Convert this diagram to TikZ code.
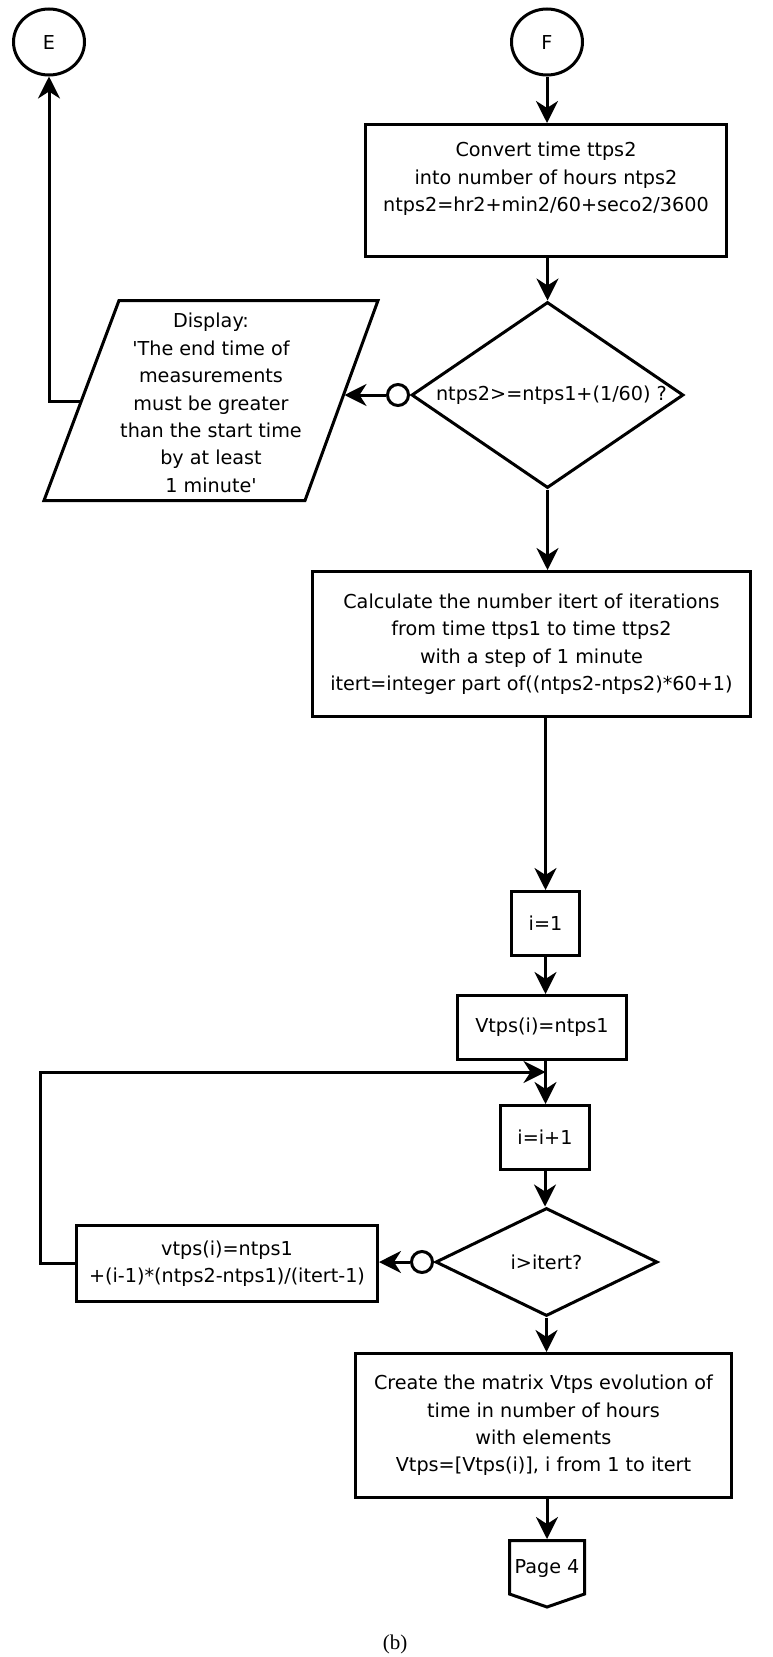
\documentclass[tikz,border=0pt]{standalone}
\usepackage{fontspec}
\newfontfamily\dvs{DejaVu Sans}
\newfontfamily\capfont{Liberation Serif}
\usetikzlibrary{shapes.geometric,arrows.meta}
\begin{document}
\begin{tikzpicture}[x=1pt,y=-1pt,
  every node/.style={font=\dvs\fontsize{19.2pt}{27.4pt}\selectfont, inner sep=0pt},
  lw/.style={line width=3pt},
  proc/.style={draw, lw, rectangle, align=center},
  conn/.style={draw, lw, ellipse, minimum width=71pt, minimum height=66pt},
  decide/.style={draw, lw, diamond, align=center},
  dot/.style={draw, lw, circle, minimum size=21pt},
  flow/.style={lw, -{Stealth[length=22pt,width=22pt,inset=7pt]}},
  wire/.style={lw},
]
\useasboundingbox (0,0) rectangle (772,1657);

% connectors to other pages
\node[conn] (E) at (49,42) {E};
\node[conn] (F) at (547,42) {F};

% conversion of the end time
\node[proc, minimum width=361pt, minimum height=132pt] (conv) at (546,190.5)
  {Convert time ttps2\\into number of hours ntps2\\ntps2=hr2+min2/60+seco2/3600\\\mbox{}};

% check of the measurement interval
\node[decide, aspect=1.46, minimum width=272pt, minimum height=186pt] (d1) at (547.5,395)
  {\hspace*{8pt}ntps2>=ntps1+(1/60) ?};
\node[dot, anchor=east] (c1) at (d1.west) {};

% error message (parallelogram)
\draw[wire] (119,300.5) -- (378,300.5) -- (305,500.5) -- (44,500.5) -- cycle;
\node[align=center] (disp) at (211,403)
  {Display:\\'The end time of\\measurements\\must be greater\\than the start time\\by at least\\ 1 minute'};
\coordinate (dispE) at (344.5,396);
\coordinate (dispW) at (81.3,401);

% number of iterations
\node[proc, minimum width=438pt, minimum height=145pt] (calc) at (531.5,644)
  {Calculate the number itert of iterations\\from time ttps1 to time ttps2\\with a step of 1 minute\\itert=integer part of((ntps2-ntps2)*60+1)};

% loop
\node[proc, minimum width=68pt, minimum height=64pt] (i1) at (545.5,923.5) {i=1};
\node[proc, minimum width=169pt, minimum height=64pt] (vt) at (542,1027.5) {Vtps(i)=ntps1};
\coordinate (join) at (545.5,1072);
\coordinate (loopc) at (40,1072);
\node[proc, minimum width=89pt, minimum height=64pt] (inc) at (545,1137.5) {i=i+1};
\node[decide, aspect=2.05, minimum width=222pt, minimum height=108pt] (d2) at (546.5,1262) {i>itert?};
\node[dot, anchor=east] (c2) at (d2.west) {};
\node[proc, minimum width=301pt, minimum height=76pt] (vtps) at (227,1263.5)
  {vtps(i)=ntps1\\+(i-1)*(ntps2-ntps1)/(itert-1)};

% result matrix
\node[proc, minimum width=376pt, minimum height=144pt] (create) at (543.5,1425.5)
  {Create the matrix Vtps evolution of\\time in number of hours\\with elements\\Vtps=[Vtps(i)], i from 1 to itert};

% off-page connector
\draw[wire] (509.5,1540.5) -- (584.5,1540.5) -- (584.5,1594) -- (547,1607) -- (509.5,1594) -- cycle;
\node (pg) at (547,1568) {Page 4};
\coordinate (pgtop) at (547,1539);

\node[font=\capfont\fontsize{21pt}{24pt}\selectfont] (cap) at (395,1644) {(b)};

% flow lines
\draw[flow] (F.south) -- (F.south |- conv.north);
\draw[flow] (d1.north |- conv.south) -- (d1.north);
\draw[flow] (c1.west) -- (c1.west -| dispE);
\draw[flow] (dispW) -| (E.south);
\draw[flow] (d1.south) -- (d1.south |- calc.north);
\draw[flow] (i1.north |- calc.south) -- (i1.north);
\draw[flow] (i1.south) -- (i1.south |- vt.north);
\draw[flow] (i1.south |- vt.south) -- (i1.south |- inc.north);
\draw[flow] (inc.south) -- (inc.south |- d2.north);
\draw[flow] (c2.west) -- (c2.west -| vtps.east);
\draw[flow] (vtps.west) -| (loopc) -- (join);
\draw[flow] (d2.south) -- (d2.south |- create.north);
\draw[flow] (create.south -| pgtop) -- (pgtop);
\end{tikzpicture}
\end{document}
